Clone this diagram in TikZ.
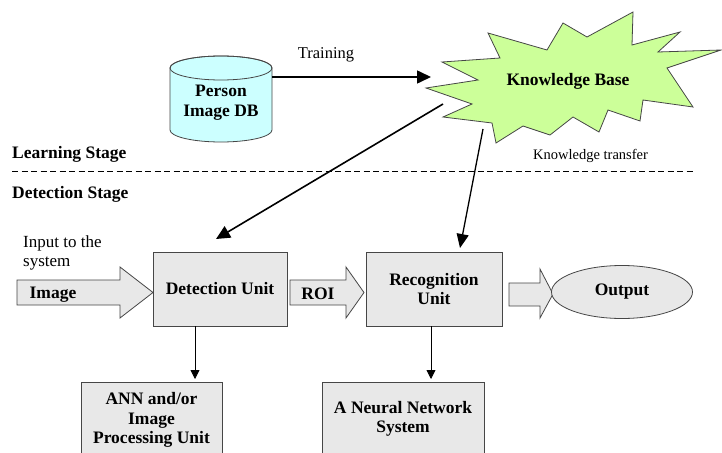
\documentclass[tikz,border=0pt]{standalone}
\usepackage{fontspec}
\setmainfont{Liberation Serif}[BoldFont={Liberation Serif Bold}]
\newfontfamily\tnr{Liberation Serif}
\usetikzlibrary{shapes.geometric,arrows.meta}
\definecolor{boxgray}{RGB}{232,232,232}
\definecolor{edgegray}{RGB}{70,70,70}
\definecolor{cylcyan}{RGB}{204,255,255}
\definecolor{burstgreen}{RGB}{204,255,153}
\begin{document}
\begin{tikzpicture}[x=1pt,y=-1pt,
  lbl/.style={font=\tnr\bfseries\fontsize{17.5}{19.5}\selectfont, inner sep=0pt, align=center},
  plain/.style={font=\tnr\fontsize{17}{19.5}\selectfont, inner sep=0pt, align=left},
  unitbox/.style={draw=edgegray, fill=boxgray, line width=0.8pt, inner sep=0pt},
  blockarr/.style={draw=edgegray, fill=boxgray, line width=0.8pt},
  thickarr/.style={line width=1.6pt, -{Triangle[length=14pt,width=13pt]}},
  medarr/.style={line width=1.3pt, -{Triangle[length=14pt,width=12pt]}},
  thinarr/.style={line width=0.8pt, -{Triangle[length=9pt,width=9pt]}},
  dashline/.style={line width=0.8pt, dash pattern=on 6pt off 3.5pt}
]
\clip (0,0) rectangle (722,452);
\fill[white] (0,0) rectangle (722,452);

% database cylinder
\path[draw=edgegray, fill=cylcyan, line width=0.8pt] (170,68) -- (170,130)
  arc[start angle=180, end angle=0, x radius=51, y radius=12] -- (272,68)
  arc[start angle=0, end angle=-180, x radius=51, y radius=12] -- cycle;
\draw[edgegray, line width=0.8pt] (221,68) ellipse[x radius=51, y radius=12];
\node[lbl] (db) at (221,102.5) {Person\\Image DB};

% knowledge base starburst
\path[draw=edgegray, fill=burstgreen, line width=0.8pt]
  (426,88) -- (478,80) -- (442,62) -- (500,58) -- (488,33) -- (547,50) -- (563,23)
  -- (587,37) -- (633,12) -- (632,45) -- (680,32) -- (658,52) -- (721,50) -- (667,68)
  -- (693,107) -- (643,100) -- (640,121) -- (608,110) -- (599,132) -- (573,117)
  -- (550,135) -- (523,126) -- (496,143) -- (492,123) -- (443,117) -- (472,104) -- cycle;
\node[lbl] (kb) at (568,81) {Knowledge Base};

% training
\node[font=\tnr\fontsize{16.5}{18}\selectfont, anchor=base, inner sep=0pt] (train) at (326,59) {Training};
\coordinate (dbE) at (272,77);
\coordinate (kbW) at (431,77);
\draw[thickarr] (dbE) -- (kbW);

% stage separation
\node[lbl, anchor=base west] (learn) at (12,158) {Learning Stage};
\node[font=\tnr\fontsize{14.5}{16}\selectfont, anchor=base west, inner sep=0pt] (kt) at (533,159) {Knowledge transfer};
\coordinate (dL) at (12,171);
\coordinate (dR) at (695,171);
\draw[dashline] (dL) -- (dR);
\node[lbl, anchor=base west] (detst) at (12,198) {Detection Stage};

% input
\node[plain, anchor=west] (inp) at (23,253) {Input to the\\system};

% image block arrow
\draw[blockarr] (17,280) -- (120,280) -- (120,267) -- (153,292.5) -- (120,318) -- (120,305) -- (17,305) -- cycle;
\node[lbl, anchor=base] (imgt) at (53,298) {Image};

% units
\node[unitbox, lbl, minimum width=134, minimum height=74] (det) at (220,289) {Detection Unit};
\node[unitbox, lbl, minimum width=136, minimum height=74] (rec) at (434,289) {Recognition\\Unit};

% ROI block arrow
\draw[blockarr] (290,280) -- (346,280) -- (346,267) -- (364,292.5) -- (346,318) -- (346,305) -- (290,305) -- cycle;
\node[lbl, anchor=base] (roit) at (318,299) {ROI};

% output block arrow and ellipse
\draw[blockarr] (509,283) -- (540,283) -- (540,269) -- (553,294) -- (540,318) -- (540,306) -- (509,306) -- cycle;
\node[ellipse, draw=edgegray, fill=boxgray, line width=0.8pt, minimum width=141, minimum height=53, lbl] (out) at (622,292) {Output};

% bottom boxes
\node[unitbox, minimum width=141, minimum height=88] (ann) at (151.5,426) {};
\node[lbl] (annt) at (151.5,420) {ANN and/or\\Image\\Processing Unit};
\node[unitbox, minimum width=162, minimum height=88] (nn) at (403,426) {};
\node[lbl] (nnt) at (403,419) {A Neural Network\\System};

% knowledge transfer arrows
\coordinate (kbL) at (443,104);
\coordinate (detT) at (216,239);
\draw[thickarr] (kbL) -- (detT);
\coordinate (kbB) at (483,129);
\coordinate (recT) at (460,248);
\draw[medarr] (kbB) -- (recT);

% down arrows
\coordinate (detB) at (195,326);
\coordinate (annT) at (195,379);
\draw[thinarr] (detB) -- (annT);
\coordinate (recB) at (431,326);
\coordinate (nnT) at (431,379);
\draw[thinarr] (recB) -- (nnT);
\end{tikzpicture}
\end{document}
